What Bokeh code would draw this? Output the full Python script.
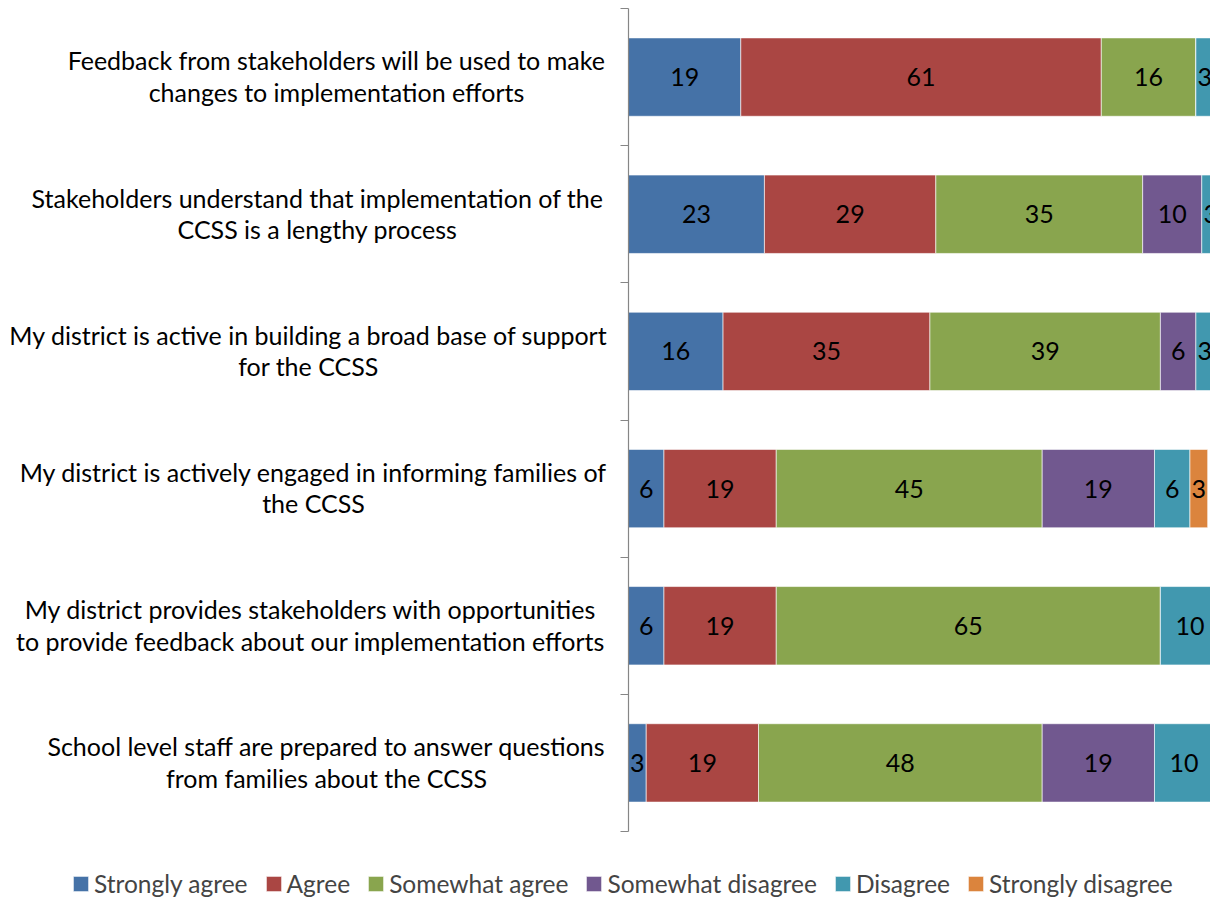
from bokeh.plotting import figure
from bokeh.models import ColumnDataSource, Range1d, FixedTicker, Legend, LegendItem
from bokeh.core.properties import value
from bokeh.embed import file_html
from bokeh.resources import INLINE

categories = [
    "Feedback from stakeholders will be used to make\nchanges to implementation efforts",
    "Stakeholders understand that implementation of the\nCCSS is a lengthy process",
    "My district is active in building a broad base of support\nfor the CCSS",
    "My district is actively engaged in informing families of\nthe CCSS",
    "My district provides stakeholders with opportunities\nto provide feedback about our implementation efforts",
    "School level staff are prepared to answer questions\nfrom families about the CCSS",
]
series_names = ["Strongly agree", "Agree", "Somewhat agree", "Somewhat disagree",
                "Disagree", "Strongly disagree"]
strongly_agree = [19, 23, 16, 6, 6, 3]
agree = [61, 29, 35, 19, 19, 19]
somewhat_agree = [16, 35, 39, 45, 65, 48]
somewhat_disagree = [0, 10, 6, 19, 0, 19]
disagree = [3, 3, 3, 6, 10, 10]
strongly_disagree = [0, 0, 0, 3, 0, 0]
colors = ["#4572A7", "#AA4643", "#89A54E", "#71588F", "#4198AF", "#DB843D"]

# ---- layout (pixels) ----
FONT = "Lato"
FSIZE = "25px"
LEGEND_FSIZE = "24.5px"
W, H = 1210, 898
AXIS_X = 628          # pixel position of the value 0 / category axis
PX_PER_UNIT = 5.91    # pixels per percentage point
PLOT_TOP, PLOT_BOTTOM = 8, 831
# centre of each two-line category label block, in pixels from the left edge
label_centers_px = [336, 317, 308, 313, 310, 326]

series = [strongly_agree, agree, somewhat_agree, somewhat_disagree, disagree, strongly_disagree]
keys = ["s%d" % i for i in range(len(series))]
n = len(categories)
positions = [i + 0.5 for i in range(n)]
data = {"pos": positions}
for k, s in zip(keys, series):
    data[k] = s
source = ColumnDataSource(data)

# value labels at the centre of each segment (from cumulative sums)
lx, ly, lt = [], [], []
for row in range(n):
    left = 0
    for s in series:
        v = s[row]
        if v > 0:
            lx.append(left + v / 2)
            ly.append(positions[row])
            lt.append(str(v))
        left += v
lab_src = ColumnDataSource(dict(x=lx, y=ly, text=lt))

# ranges so that the frame fills the whole canvas
x_start = -AXIS_X / PX_PER_UNIT
x_end = (W - AXIS_X) / PX_PER_UNIT
px_per_row = (PLOT_BOTTOM - PLOT_TOP) / n
y_top = -PLOT_TOP / px_per_row
y_bottom = n + (H - PLOT_BOTTOM) / px_per_row

p = figure(width=W, height=H, output_backend="svg", toolbar_location=None,
           x_range=Range1d(x_start, x_end), y_range=Range1d(y_bottom, y_top),
           x_axis_location=None, min_border=0)
p.outline_line_color = None
p.grid.visible = False
p.background_fill_color = "white"
p.border_fill_color = "white"

renderers = p.hbar_stack(keys, y="pos", height=0.5714, fill_color=colors,
                         line_color="white", line_alpha=0.6, line_width=1, source=source)

p.text(x="x", y="y", text="text", source=lab_src, text_align="center",
       text_baseline="middle", text_font=value(FONT), text_font_size=value(FSIZE),
       text_color="black")

ax = p.yaxis[0]
ax.fixed_location = 0
ax.bounds = (0, n)
ax.ticker = FixedTicker(ticks=[], minor_ticks=list(range(n + 1)))
ax.major_tick_out = 0
ax.major_tick_in = 0
ax.minor_tick_out = 8
ax.minor_tick_in = 0
ax.axis_line_color = "#868686"
ax.axis_line_width = 1.2
ax.minor_tick_line_color = "#868686"
ax.minor_tick_line_width = 1.2

cat_src = ColumnDataSource(dict(
    x=[(cx - AXIS_X) / PX_PER_UNIT for cx in label_centers_px],
    y=positions, text=categories))
p.text(x="x", y="y", text="text", source=cat_src, text_align="center",
       text_baseline="middle", text_font=value(FONT), text_font_size=value(FSIZE),
       text_color="black", text_line_height=1.05, y_offset=-1)

legend = Legend(items=[LegendItem(label=nm, renderers=[r]) for nm, r in zip(series_names, renderers)],
                orientation="horizontal", location=(71, 0),
                glyph_width=19, glyph_height=19,
                label_standoff=4, spacing=16, padding=0, margin=0,
                label_text_font=FONT, label_text_font_size=LEGEND_FSIZE,
                border_line_color=None, background_fill_alpha=0)
p.add_layout(legend, "center")

open("out.html", "w").write(file_html(p, INLINE))
